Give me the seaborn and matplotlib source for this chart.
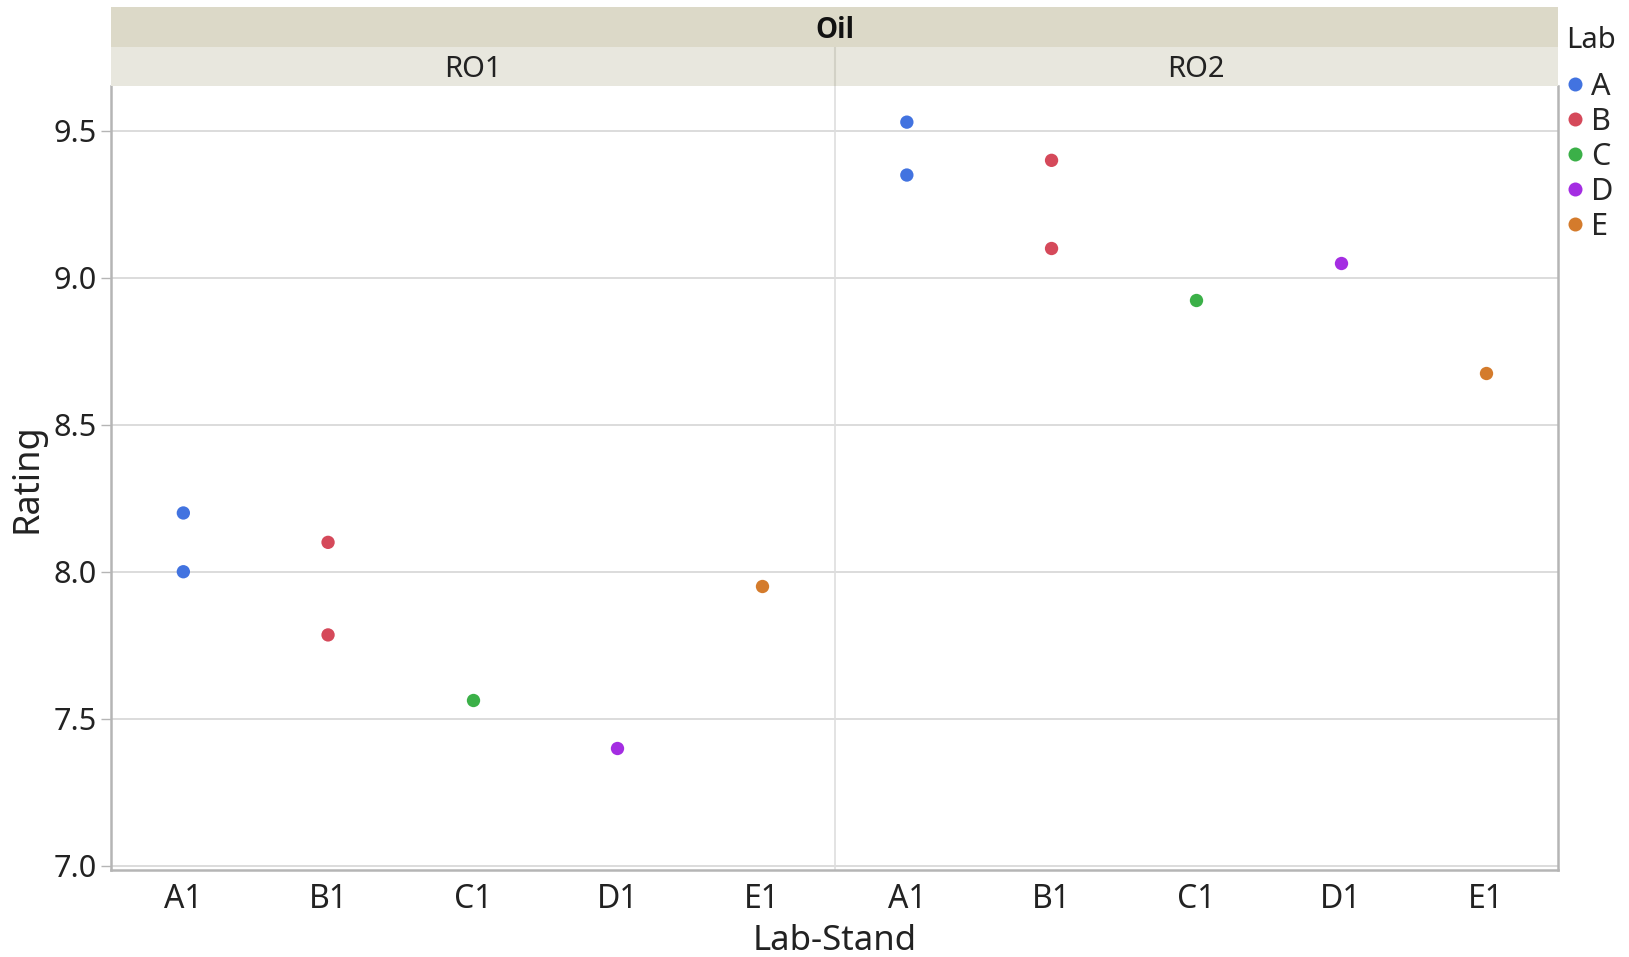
import numpy as np
import pandas as pd
import matplotlib
matplotlib.use("Agg")
import matplotlib.pyplot as plt
import seaborn as sns

# data
oil_type = ["RO1"] * 7 + ["RO2"] * 7
stand = ["A1", "A1", "B1", "B1", "C1", "D1", "E1"] * 2
lab = ["A", "A", "B", "B", "C", "D", "E"] * 2
rating = [8.20, 8.00, 8.10, 7.785, 7.565, 7.40, 7.95,
          9.53, 9.35, 9.40, 9.10, 8.925, 9.05, 8.675]

oil_levels = ["RO1", "RO2"]
stand_levels = ["A1", "B1", "C1", "D1", "E1"]
lab_levels = ["A", "B", "C", "D", "E"]
lab_colors = ["#4273e0", "#d5495a", "#3bb048", "#a42de2", "#d47b2c"]
y_ticks = [7.0, 7.5, 8.0, 8.5, 9.0, 9.5]

df = pd.DataFrame({"Oil": oil_type, "Stand": stand, "Lab": lab, "Rating": rating})
df["cell"] = df["Oil"] + " " + df["Stand"]
cell_order = [o + " " + s for o in oil_levels for s in stand_levels]

sns.set_theme(style="white")
plt.rcParams["font.family"] = ["Noto Sans", "DejaVu Sans"]

W, H = 1629, 957
fig = plt.figure(figsize=(W / 100, H / 100), dpi=100)
ax_l, ax_r, ax_b, ax_t = 111, 1558, 870, 86
ax = fig.add_axes([ax_l / W, 1 - ax_b / H, (ax_r - ax_l) / W, (ax_b - ax_t) / H])

sns.stripplot(data=df, x="cell", y="Rating", hue="Lab", order=cell_order,
              hue_order=lab_levels, palette=lab_colors, jitter=False,
              size=9.6, linewidth=0, ax=ax, zorder=3)

ax.set_xlim(-0.5, len(cell_order) - 0.5)
ax.set_ylim(6.985, 9.653)
ax.set_yticks(y_ticks)
ax.set_yticklabels([f"{v:.1f}" for v in y_ticks], fontsize=22, color="#222222")
ax.set_xticks(range(len(cell_order)))
ax.set_xticklabels([c.split(" ")[1] for c in cell_order], fontsize=23, color="#222222")
ax.tick_params(axis="y", length=7, width=1, color="#b5b5b5", pad=3, left=True)
ax.tick_params(axis="x", length=0, pad=9)
ax.grid(axis="y", color="#d6d6d6", linewidth=1.2, zorder=0)
ax.axvline(4.5, color="#dedede", linewidth=1.2, zorder=1)

for side in ["left", "bottom", "right"]:
    ax.spines[side].set_color("#b5b5b5")
    ax.spines[side].set_linewidth(1.8)
ax.spines["top"].set_visible(False)

ax.set_xlabel("Lab-Stand", fontsize=25, color="#222222", labelpad=6)
ax.set_ylabel("Rating", fontsize=26, color="#222222", labelpad=6)

# header strips
h_oil = fig.add_axes([ax_l / W, 1 - 47 / H, (ax_r - ax_l) / W, 40 / H])
h_oil.set_facecolor("#dcd9c8")
h_oil.text(0.5, 0.42, "Oil", ha="center", va="center", fontsize=20,
           fontweight="bold", family=["Open Sans", "DejaVu Sans"],
           color="#111111", transform=h_oil.transAxes)
h_ro = fig.add_axes([ax_l / W, 1 - 86 / H, (ax_r - ax_l) / W, 39 / H])
h_ro.set_facecolor("#e8e7de")
h_ro.set_xlim(0, 2)
h_ro.axvline(1, color="#d2d1c6", linewidth=1.5)
for i, o in enumerate(oil_levels):
    h_ro.text(i + 0.5, 0.42, o, ha="center", va="center", fontsize=21,
              color="#222222", transform=h_ro.get_xaxis_transform())
for h in (h_oil, h_ro):
    h.set_xticks([])
    h.set_yticks([])
    for s in h.spines.values():
        s.set_visible(False)

# legend with its title placed separately
fig.text(1566 / W, 1 - 41 / H, "Lab", ha="left", va="center", fontsize=21,
         color="#222222")
ax.legend(loc="upper left", bbox_to_anchor=(1567 / W, 1 - 72 / H),
          bbox_transform=fig.transFigure, frameon=False, fontsize=22,
          handlelength=0.5, handletextpad=0.3, labelspacing=0.16,
          borderaxespad=0, borderpad=0, markerscale=1.05)

fig.savefig("out.png", dpi=100)
